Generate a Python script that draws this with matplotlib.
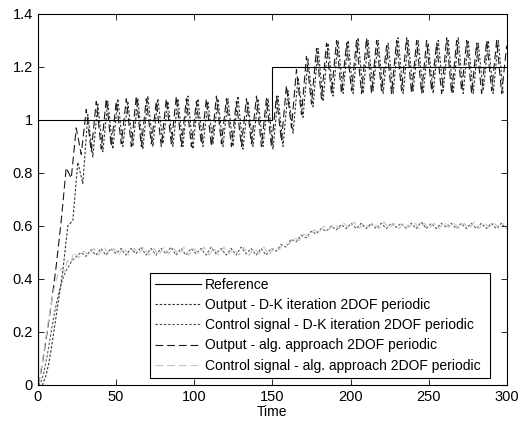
import numpy as np
import matplotlib
matplotlib.use("Agg")
import matplotlib.pyplot as plt

plt.rcParams['font.family'] = ['Liberation Sans', 'DejaVu Sans']

# ---------------- data ----------------
# Reference step signal
ref_t = [0, 0, 150, 150, 300]
ref_y = [0, 1.0, 1.0, 1.2, 1.2]

# Output - D-K iteration: start-up part
dk_out_t0 = [0, 3, 5, 7, 9, 11, 13, 16.0, 19.2, 22.4, 25.6, 28.8]
dk_out_y0 = [0, 0.0, 0.03, 0.08, 0.15, 0.23, 0.31, 0.43, 0.60, 0.62, 0.84, 0.76]
# Output - D-K iteration: successive peaks / troughs from t = 32 (every 3.2 s)
dk_out_start = 32.0
dk_out_step = 3.2
dk_out_ext = [1.02, 0.86, 1.06, 0.88, 1.07, 0.89, 1.08, 0.90, 1.07, 0.90,
              1.08, 0.89, 1.09, 0.90, 1.08, 0.91, 1.07, 0.90, 1.08, 0.90,
              1.09, 0.89, 1.08, 0.90, 1.07, 0.91, 1.08, 0.90, 1.08, 0.90,
              1.09, 0.89, 1.07, 0.90, 1.08, 0.90, 1.08, 0.89, 1.09, 0.90,
              1.11, 0.95, 1.16, 1.01, 1.23, 1.05, 1.27, 1.07, 1.29, 1.09,
              1.30, 1.10, 1.30, 1.10, 1.31, 1.10, 1.30, 1.11, 1.30, 1.10,
              1.29, 1.10, 1.31, 1.10, 1.30, 1.11, 1.30, 1.10, 1.29, 1.10,
              1.30, 1.11, 1.30, 1.10, 1.31, 1.10, 1.30, 1.10, 1.29, 1.11,
              1.30, 1.10, 1.30, 1.10]

# Output - algebraic approach: start-up part
alg_out_t0 = [0, 1.5, 4, 6.5, 9, 11.8, 15.0, 18.2, 21.4, 24.6, 27.8]
alg_out_y0 = [0, 0.03, 0.12, 0.22, 0.32, 0.45, 0.62, 0.82, 0.78, 0.97, 0.87]
# Output - algebraic approach: peaks / troughs from t = 31 (every 3.2 s)
alg_out_start = 31.0
alg_out_step = 3.2
alg_out_ext = [1.04, 0.88, 1.07, 0.89, 1.08, 0.90, 1.07, 0.91, 1.08, 0.90,
               1.09, 0.90, 1.08, 0.91, 1.07, 0.90, 1.08, 0.91, 1.09, 0.90,
               1.08, 0.90, 1.07, 0.91, 1.08, 0.90, 1.09, 0.91, 1.08, 0.90,
               1.07, 0.90, 1.08, 0.91, 1.09, 0.90, 1.08, 0.90, 1.09, 0.92,
               1.13, 0.97, 1.19, 1.02, 1.24, 1.06, 1.27, 1.08, 1.29, 1.10,
               1.30, 1.10, 1.29, 1.11, 1.30, 1.10, 1.31, 1.10, 1.30, 1.11,
               1.28, 1.10, 1.30, 1.11, 1.31, 1.10, 1.30, 1.10, 1.30, 1.11,
               1.29, 1.10, 1.31, 1.10, 1.30, 1.11, 1.30, 1.10, 1.29, 1.10,
               1.30, 1.11, 1.30, 1.10, 1.28]

# Control signal - D-K iteration: start-up part
dk_ctl_t0 = [0, 2, 4, 6, 8, 10, 12, 14, 16, 18, 20, 22, 24]
dk_ctl_y0 = [0, 0.01, 0.05, 0.11, 0.18, 0.25, 0.31, 0.36, 0.40, 0.43, 0.45, 0.47, 0.48]
# Control signal - D-K iteration: peaks / troughs from t = 27.6 (every 3.2 s)
dk_ctl_start = 27.6
dk_ctl_step = 3.2
dk_ctl_ext = [0.50, 0.485, 0.51, 0.49, 0.515, 0.49, 0.515, 0.495, 0.515, 0.49,
              0.515, 0.495, 0.52, 0.49, 0.515, 0.49, 0.515, 0.495, 0.52, 0.49,
              0.515, 0.49, 0.515, 0.495, 0.515, 0.49, 0.52, 0.495, 0.515, 0.49,
              0.515, 0.49, 0.52, 0.495, 0.515, 0.49, 0.515, 0.49, 0.515, 0.505,
              0.53, 0.52, 0.55, 0.54, 0.565, 0.555, 0.58, 0.57, 0.59, 0.58,
              0.60, 0.585, 0.605, 0.59, 0.61, 0.59, 0.61, 0.59, 0.61, 0.59,
              0.61, 0.59, 0.61, 0.595, 0.61, 0.59, 0.61, 0.59, 0.615, 0.59,
              0.61, 0.59, 0.61, 0.595, 0.61, 0.59, 0.61, 0.59, 0.61, 0.59,
              0.61, 0.59, 0.61, 0.59, 0.61, 0.59]

# Control signal - algebraic approach: start-up part
alg_ctl_t0 = [0, 1, 3, 5, 7, 9, 11, 13, 15, 17, 19, 21, 23]
alg_ctl_y0 = [0, 0.02, 0.09, 0.17, 0.25, 0.32, 0.38, 0.42, 0.44, 0.43, 0.47, 0.46, 0.50]
# Control signal - algebraic approach: peaks / troughs from t = 26.2 (every 3.2 s)
alg_ctl_start = 26.2
alg_ctl_step = 3.2
alg_ctl_ext = [0.48, 0.505, 0.49, 0.515, 0.49, 0.52, 0.495, 0.515, 0.49, 0.52,
               0.49, 0.515, 0.495, 0.52, 0.49, 0.515, 0.49, 0.52, 0.495, 0.515,
               0.49, 0.52, 0.49, 0.515, 0.495, 0.52, 0.49, 0.515, 0.49, 0.52,
               0.495, 0.515, 0.49, 0.52, 0.49, 0.515, 0.495, 0.52, 0.49, 0.515,
               0.51, 0.535, 0.53, 0.555, 0.545, 0.57, 0.56, 0.585, 0.575, 0.60,
               0.585, 0.61, 0.59, 0.61, 0.59, 0.615, 0.59, 0.61, 0.595, 0.61,
               0.59, 0.615, 0.59, 0.61, 0.59, 0.61, 0.595, 0.615, 0.59, 0.61,
               0.59, 0.61, 0.59, 0.615, 0.595, 0.61, 0.59, 0.61, 0.59, 0.615,
               0.59, 0.61, 0.595, 0.61, 0.59, 0.61]

labels = ["Reference",
          "Output - D-K iteration 2DOF periodic",
          "Control signal - D-K iteration 2DOF periodic",
          "Output - alg. approach 2DOF periodic",
          "Control signal - alg. approach 2DOF periodic"]

x_ticks = [0, 50, 100, 150, 200, 250, 300]
y_ticks = [0, 0.2, 0.4, 0.6, 0.8, 1, 1.2, 1.4]
y_ticklabels = ["0", "0.2", "0.4", "0.6", "0.8", "1", "1.2", "1.4"]


def build(t0, y0, start, step, ext):
    t_ext = start + step * np.arange(len(ext))
    return np.concatenate([t0, t_ext]), np.concatenate([y0, ext])


# ---------------- figure ----------------
fig = plt.figure(figsize=(5.32, 4.23), dpi=100)
ax = fig.add_axes([0.071, 0.09, 0.882, 0.877])

t, y = build(dk_out_t0, dk_out_y0, dk_out_start, dk_out_step, dk_out_ext)
l1, = ax.plot(t, y, color='#333333', lw=0.8, dashes=(2.2, 1.6))
t, y = build(dk_ctl_t0, dk_ctl_y0, dk_ctl_start, dk_ctl_step, dk_ctl_ext)
l2, = ax.plot(t, y, color='#555555', lw=0.8, dashes=(2.2, 1.6))
t, y = build(alg_out_t0, alg_out_y0, alg_out_start, alg_out_step, alg_out_ext)
l3, = ax.plot(t, y, color='#1a1a1a', lw=0.8, dashes=(7, 3.5))
t, y = build(alg_ctl_t0, alg_ctl_y0, alg_ctl_start, alg_ctl_step, alg_ctl_ext)
l4, = ax.plot(t, y, color='#c4c4c4', lw=0.8, dashes=(7, 3.5))
l0, = ax.plot(ref_t, ref_y, color='black', lw=0.8)

ax.set_xlim(0, 300)
ax.set_ylim(0, 1.4)
ax.set_xticks(x_ticks)
ax.set_yticks(y_ticks)
ax.set_yticklabels(y_ticklabels)
ax.tick_params(direction='in', top=True, right=True, labelsize=10.5,
               length=4, width=0.6, colors='black')
for s in ax.spines.values():
    s.set_linewidth(0.8)
ax.set_xlabel("Time", fontsize=10, labelpad=1)

leg = ax.legend([l0, l1, l2, l3, l4], labels, loc='lower left',
                bbox_to_anchor=(0.239, 0.02, 0.725, 0.29), mode='expand',
                fontsize=10, handlelength=3.3, handletextpad=0.3,
                labelspacing=0.45, borderpad=0.35, fancybox=False,
                framealpha=1, edgecolor='black', borderaxespad=0)
leg.get_frame().set_linewidth(0.8)

fig.savefig("out.png", dpi=100)
